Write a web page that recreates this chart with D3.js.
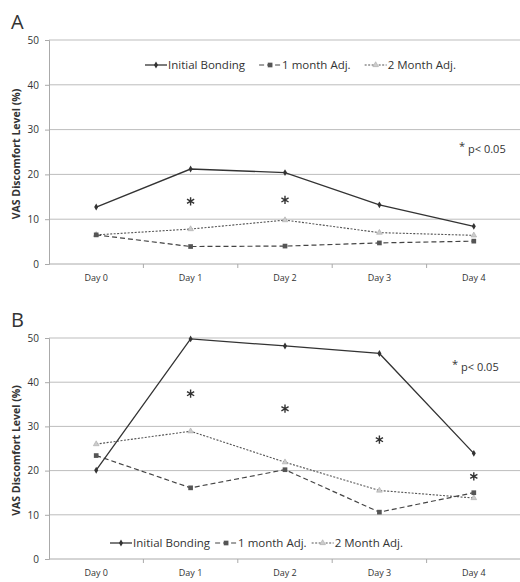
<!DOCTYPE html>
<html>
<head>
<meta charset="utf-8">
<script src="https://d3js.org/d3.v7.min.js"></script>
<style>
  body { margin: 0; background: #fff; }
  text { font-family: "Open Sans", "Liberation Sans", sans-serif; fill: #333; }
</style>
</head>
<body>
<script>
var days = ["Day 0", "Day 1", "Day 2", "Day 3", "Day 4"];
var seriesNames = ["Initial Bonding", "1 month Adj.", "2 Month Adj."];
var yTicks = [0, 10, 20, 30, 40, 50];

var aInitial = [12.7, 21.2, 20.4, 13.2, 8.4];
var aMonth1 = [6.5, 3.9, 4.0, 4.7, 5.1];
var aMonth2 = [6.5, 7.8, 9.8, 7.0, 6.4];
var aStarDays = ["Day 1", "Day 2"];
var aStarVals = [14.0, 14.3];

var bInitial = [20.1, 49.8, 48.2, 46.5, 23.9];
var bMonth1 = [23.4, 16.1, 20.2, 10.6, 15.0];
var bMonth2 = [26.0, 28.9, 21.9, 15.5, 13.8];
var bStarDays = ["Day 1", "Day 2", "Day 3", "Day 4"];
var bStarVals = [37.4, 34.0, 27.0, 18.7];

var width = 520, height = 582;

var svg = d3.select("body")
  .append("svg")
  .attr("width", width)
  .attr("height", height);

var styles = [
  { stroke: "#333", dash: null, width: 1.3, marker: "diamond" },
  { stroke: "#444", dash: "5,3", width: 1.2, marker: "square" },
  { stroke: "#555", dash: "2,1.5", width: 1.1, marker: "triangle" }
];

function drawMarker(g, type, x, y) {
  if (type === "diamond") {
    g.append("path")
      .attr("d", d3.symbol(d3.symbolDiamond, 14)())
      .attr("transform", "translate(" + x + "," + y + ")")
      .attr("fill", "#333");
  } else if (type === "square") {
    g.append("path")
      .attr("d", d3.symbol(d3.symbolSquare, 22)())
      .attr("transform", "translate(" + x + "," + y + ")")
      .attr("fill", "#555");
  } else {
    g.append("path")
      .attr("d", d3.symbol(d3.symbolTriangle, 14)())
      .attr("transform", "translate(" + x + "," + y + ")")
      .attr("fill", "#ccc")
      .attr("stroke", "#aaa")
      .attr("stroke-width", 0.6);
  }
}

function panel(cfg) {
  var g = svg.append("g");

  var x = d3.scaleBand().domain(days).range([49, 521]);
  var y = d3.scaleLinear().domain([0, 50]).range([cfg.bottom, cfg.top]);
  var cx = function(d) { return x(d) + x.bandwidth() / 2; };

  // gridlines
  g.selectAll(".grid")
    .data(yTicks.slice(1))
    .enter().append("line")
    .attr("x1", 49).attr("x2", 521)
    .attr("y1", function(d) { return y(d); })
    .attr("y2", function(d) { return y(d); })
    .attr("stroke", "#bdbdbd")
    .attr("stroke-width", 1);

  // y axis
  var yAxis = g.append("g")
    .attr("transform", "translate(49,0)")
    .call(d3.axisLeft(y).tickValues(yTicks).tickSize(4).tickPadding(6));
  yAxis.select(".domain").attr("stroke", "#aaa");
  yAxis.selectAll(".tick line").attr("stroke", "#aaa");
  yAxis.selectAll("text").style("font-size", "10px").attr("fill", "#444");

  // x axis
  var xAxis = g.append("g")
    .attr("transform", "translate(0," + cfg.bottom + ")")
    .call(d3.axisBottom(x).tickSize(0).tickPadding(11));
  xAxis.select(".domain").attr("stroke", "#aaa").attr("d", "M49,0H521");
  xAxis.selectAll("text").style("font-size", "9px").attr("fill", "#444");
  g.selectAll(".xtick")
    .data(days.slice(1))
    .enter().append("line")
    .attr("x1", function(d) { return x(d); })
    .attr("x2", function(d) { return x(d); })
    .attr("y1", cfg.bottom).attr("y2", cfg.bottom + 4)
    .attr("stroke", "#aaa");

  // y title
  g.append("text")
    .attr("transform", "translate(20," + ((cfg.top + cfg.bottom) / 2 + 2) + ") rotate(-90)")
    .attr("text-anchor", "middle")
    .style("font-size", "10.5px")
    .style("font-weight", "bold")
    .text("VAS Discomfort Level (%)");

  // panel letter
  g.append("text")
    .attr("x", 11).attr("y", cfg.top - 11)
    .style("font-size", "20px")
    .attr("fill", "#222")
    .text(cfg.letter);

  // series lines, last first so the solid one is on top
  var line = d3.line()
    .x(function(d, i) { return cx(days[i]); })
    .y(function(d) { return y(d); });

  [2, 1, 0].forEach(function(s) {
    var st = styles[s];
    g.append("path")
      .datum(cfg.series[s])
      .attr("d", line)
      .attr("fill", "none")
      .attr("stroke", st.stroke)
      .attr("stroke-width", st.width)
      .attr("stroke-dasharray", st.dash);
    cfg.series[s].forEach(function(v, i) {
      drawMarker(g, st.marker, cx(days[i]), y(v));
    });
  });

  // significance asterisks
  cfg.starDays.forEach(function(d, i) {
    g.append("path")
      .attr("d", d3.symbol(d3.symbolAsterisk, 48)())
      .attr("transform", "translate(" + cx(d) + "," + y(cfg.starVals[i]) + ")")
      .attr("fill", "none")
      .attr("stroke", "#333")
      .attr("stroke-width", 1.4);
  });

  // p note
  var note = g.append("text")
    .attr("x", cfg.noteX).attr("y", cfg.noteY)
    .style("font-size", "11px")
    .attr("fill", "#333");
  note.append("tspan").attr("dy", -3).text("*");
  note.append("tspan").attr("dy", 3).attr("dx", 3).text("p< 0.05");

  // legend
  var lg = g.append("g");
  var lx = cfg.legendX;
  seriesNames.forEach(function(name, s) {
    var st = styles[s];
    lg.append("line")
      .attr("x1", lx).attr("x2", lx + 22)
      .attr("y1", cfg.legendY).attr("y2", cfg.legendY)
      .attr("stroke", st.stroke)
      .attr("stroke-width", st.width)
      .attr("stroke-dasharray", st.dash);
    drawMarker(lg, st.marker, lx + 11, cfg.legendY);
    var t = lg.append("text")
      .attr("x", lx + 23).attr("y", cfg.legendY + 4)
      .style("font-size", "11.5px")
      .attr("fill", "#333")
      .text(name);
    lx += 23 + t.node().getComputedTextLength() + cfg.legendGap;
  });
}

panel({
  letter: "A", top: 40, bottom: 264,
  series: [aInitial, aMonth1, aMonth2],
  starDays: aStarDays, starVals: aStarVals,
  noteX: 459, noteY: 153,
  legendX: 145, legendY: 65, legendGap: 14
});

panel({
  letter: "B", top: 338, bottom: 559,
  series: [bInitial, bMonth1, bMonth2],
  starDays: bStarDays, starVals: bStarVals,
  noteX: 452, noteY: 371,
  legendX: 110, legendY: 543, legendGap: 5
});
</script>
</body>
</html>
